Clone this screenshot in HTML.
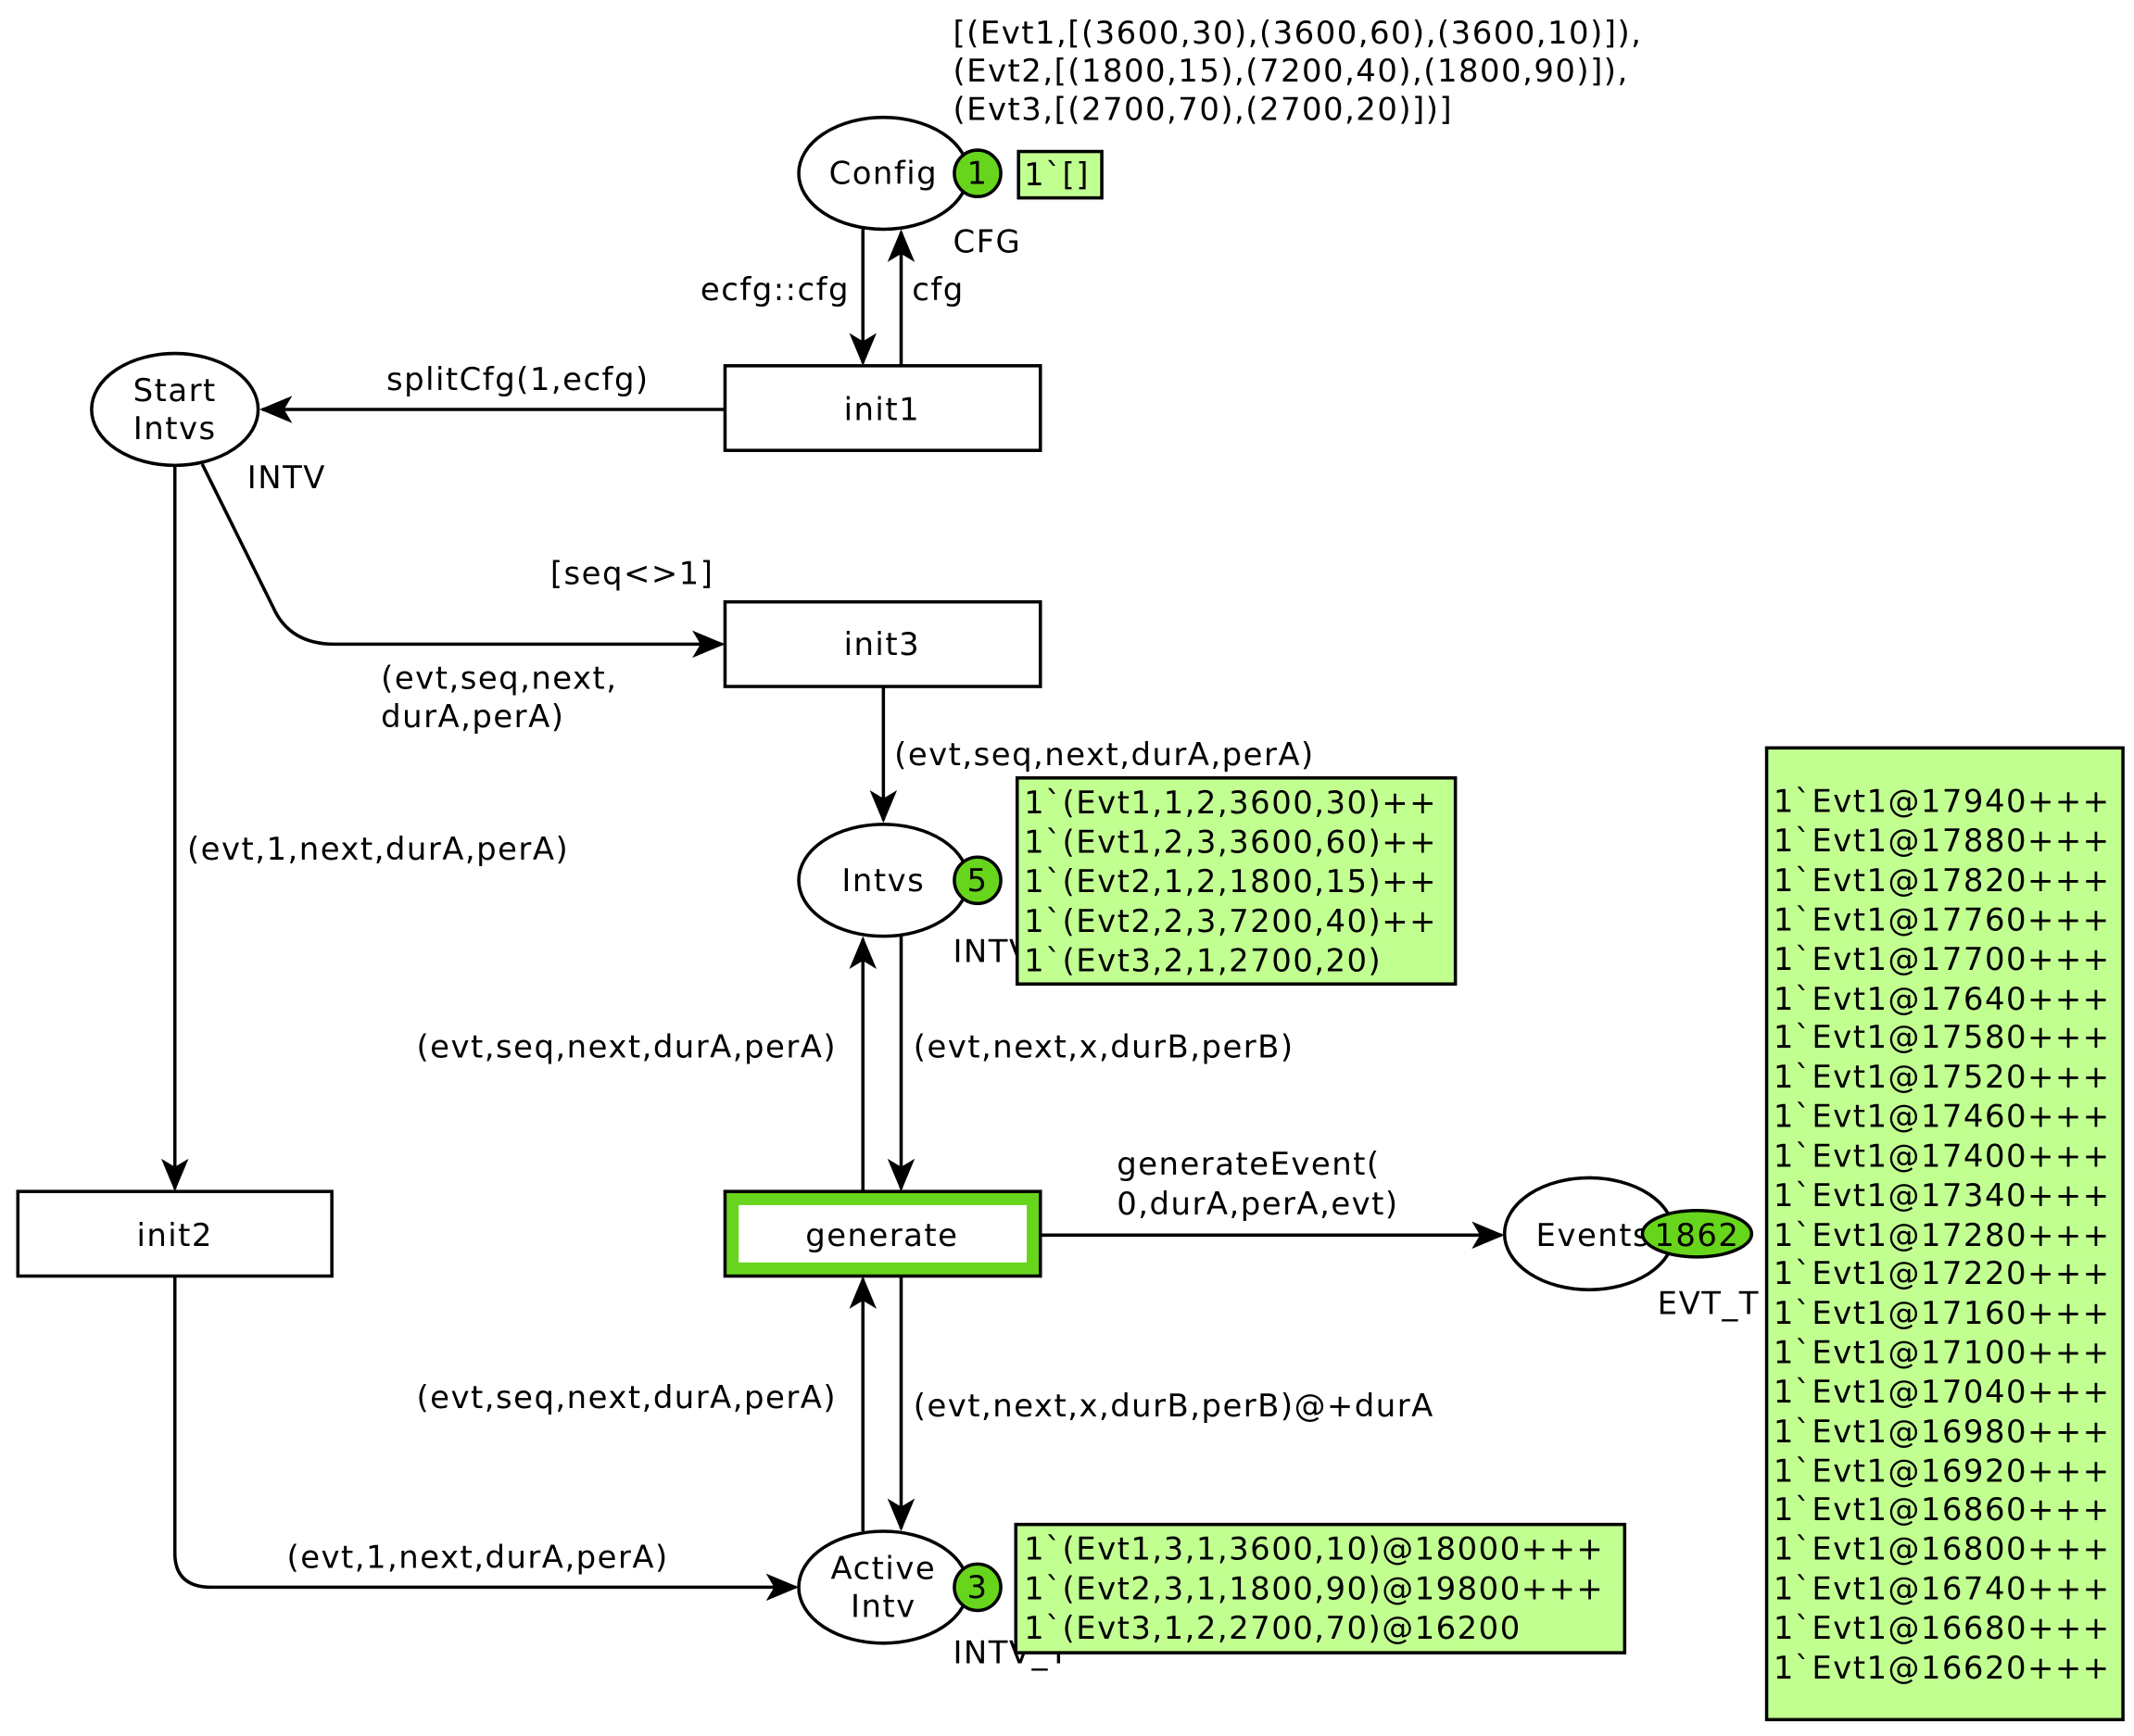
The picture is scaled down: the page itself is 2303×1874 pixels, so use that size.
<!DOCTYPE html>
<html><head><meta charset="utf-8"><style>
html,body{margin:0;padding:0;background:#fff}
svg{display:block}
text{font-family:"DejaVu Sans","Liberation Sans",sans-serif;font-size:23px;letter-spacing:1px;fill:#000;dominant-baseline:central}
</style></head><body>
<svg width="2303" height="1874" viewBox="0 0 1563 1272" xmlns="http://www.w3.org/2000/svg">
<defs>
<marker id="b" markerWidth="24" markerHeight="24" refX="22" refY="10" orient="auto" markerUnits="userSpaceOnUse" viewBox="0 0 24 20"><path d="M0,0 L24,10 L0,20 L6,10 Z" fill="#000"/></marker></defs>
<g fill="none" stroke="#000" stroke-width="2.4">
<line x1="632" y1="168" x2="632" y2="266" marker-end="url(#b)"/>
<line x1="660" y1="268" x2="660" y2="170" marker-end="url(#b)"/>
<line x1="531" y1="300" x2="192" y2="300" marker-end="url(#b)"/>
<path d="M148,340 L200,445 Q212,472 245,472 L529,472" marker-end="url(#b)"/>
<line x1="647" y1="503" x2="647" y2="601" marker-end="url(#b)"/>
<line x1="128" y1="341" x2="128" y2="871" marker-end="url(#b)"/>
<line x1="632" y1="873" x2="632" y2="688" marker-end="url(#b)"/>
<line x1="660" y1="686" x2="660" y2="871" marker-end="url(#b)"/>
<line x1="762" y1="905" x2="1100" y2="905" marker-end="url(#b)"/>
<line x1="632" y1="1122" x2="632" y2="937" marker-end="url(#b)"/>
<line x1="660" y1="935" x2="660" y2="1120" marker-end="url(#b)"/>
<path d="M128,935 L128,1138 Q128,1163 155,1163 L583,1163" marker-end="url(#b)"/>
<ellipse cx="647" cy="127" rx="62" ry="41" fill="#fff"/>
<ellipse cx="128" cy="300" rx="61" ry="41" fill="#fff"/>
<ellipse cx="647" cy="645" rx="62" ry="41" fill="#fff"/>
<ellipse cx="1164" cy="904" rx="62" ry="41" fill="#fff"/>
<ellipse cx="647" cy="1163" rx="62" ry="41" fill="#fff"/>
<rect x="531" y="268" width="231" height="62" fill="#fff"/>
<rect x="531" y="441" width="231" height="62" fill="#fff"/>
<rect x="13" y="873" width="230" height="62" fill="#fff"/>
<rect x="531" y="873" width="231" height="62" fill="#67d51b"/>
<rect x="541" y="883" width="211" height="42" fill="#fff" stroke="none"/>
<circle cx="716" cy="127" r="17" fill="#67d51b"/>
<circle cx="716" cy="645" r="17" fill="#67d51b"/>
<circle cx="716" cy="1163" r="17" fill="#67d51b"/>
<rect x="746" y="111" width="61" height="34" fill="#c2ff91"/>
</g>
<text x="698" y="24">[(Evt1,[(3600,30),(3600,60),(3600,10)]),</text>
<text x="698" y="52">(Evt2,[(1800,15),(7200,40),(1800,90)]),</text>
<text x="698" y="80">(Evt3,[(2700,70),(2700,20)])]</text>
<text x="647" y="127" text-anchor="middle">Config</text>
<text x="716" y="127" text-anchor="middle">1</text>
<text x="750" y="128">1`[]</text>
<text x="698" y="177">CFG</text>
<text x="513" y="212">ecfg::cfg</text>
<text x="668" y="212">cfg</text>
<text x="646" y="300" text-anchor="middle">init1</text>
<text x="128" y="286" text-anchor="middle">Start</text>
<text x="128" y="314" text-anchor="middle">Intvs</text>
<text x="181" y="350">INTV</text>
<text x="283" y="278">splitCfg(1,ecfg)</text>
<text x="403" y="420">[seq&lt;&gt;1]</text>
<text x="279" y="497">(evt,seq,next,</text>
<text x="279" y="525">durA,perA)</text>
<text x="646" y="472" text-anchor="middle">init3</text>
<text x="655" y="553">(evt,seq,next,durA,perA)</text>
<text x="137" y="622">(evt,1,next,durA,perA)</text>
<text x="647" y="645" text-anchor="middle">Intvs</text>
<text x="716" y="645" text-anchor="middle">5</text>
<text x="698" y="697">INTV</text>
<rect x="745" y="570" width="321" height="151" fill="#c2ff91" stroke="#000" stroke-width="2.4"/>
<text x="750" y="588">1`(Evt1,1,2,3600,30)++</text>
<text x="750" y="617">1`(Evt1,2,3,3600,60)++</text>
<text x="750" y="646">1`(Evt2,1,2,1800,15)++</text>
<text x="750" y="675">1`(Evt2,2,3,7200,40)++</text>
<text x="750" y="704">1`(Evt3,2,1,2700,20)</text>
<text x="305" y="767">(evt,seq,next,durA,perA)</text>
<text x="669" y="767">(evt,next,x,durB,perB)</text>
<text x="128" y="905" text-anchor="middle">init2</text>
<text x="646" y="905" text-anchor="middle">generate</text>
<text x="818" y="853">generateEvent(</text>
<text x="818" y="882">0,durA,perA,evt)</text>
<text x="1125" y="905">Events</text>
<ellipse cx="1243" cy="904" rx="40" ry="17" fill="#67d51b" stroke="#000" stroke-width="2.4"/>
<text x="1243" y="905" text-anchor="middle">1862</text>
<text x="1214" y="955">EVT_T</text>
<text x="305" y="1024">(evt,seq,next,durA,perA)</text>
<text x="669" y="1030">(evt,next,x,durB,perB)@+durA</text>
<text x="210" y="1141">(evt,1,next,durA,perA)</text>
<text x="647" y="1149" text-anchor="middle">Active</text>
<text x="647" y="1177" text-anchor="middle">Intv</text>
<text x="716" y="1163" text-anchor="middle">3</text>
<text x="698" y="1211">INTV_T</text>
<rect x="744" y="1117" width="446" height="94" fill="#c2ff91" stroke="#000" stroke-width="2.4"/>
<text x="750" y="1135">1`(Evt1,3,1,3600,10)@18000+++</text>
<text x="750" y="1164">1`(Evt2,3,1,1800,90)@19800+++</text>
<text x="750" y="1193">1`(Evt3,1,2,2700,70)@16200</text>
<rect x="1294" y="548" width="261" height="712" fill="#c2ff91" stroke="#000" stroke-width="2.4"/>
<g>
<text x="1299" y="587">1`Evt1@17940+++</text>
<text x="1299" y="616">1`Evt1@17880+++</text>
<text x="1299" y="645">1`Evt1@17820+++</text>
<text x="1299" y="674">1`Evt1@17760+++</text>
<text x="1299" y="703">1`Evt1@17700+++</text>
<text x="1299" y="732">1`Evt1@17640+++</text>
<text x="1299" y="760">1`Evt1@17580+++</text>
<text x="1299" y="789">1`Evt1@17520+++</text>
<text x="1299" y="818">1`Evt1@17460+++</text>
<text x="1299" y="847">1`Evt1@17400+++</text>
<text x="1299" y="876">1`Evt1@17340+++</text>
<text x="1299" y="905">1`Evt1@17280+++</text>
<text x="1299" y="933">1`Evt1@17220+++</text>
<text x="1299" y="962">1`Evt1@17160+++</text>
<text x="1299" y="991">1`Evt1@17100+++</text>
<text x="1299" y="1020">1`Evt1@17040+++</text>
<text x="1299" y="1049">1`Evt1@16980+++</text>
<text x="1299" y="1078">1`Evt1@16920+++</text>
<text x="1299" y="1106">1`Evt1@16860+++</text>
<text x="1299" y="1135">1`Evt1@16800+++</text>
<text x="1299" y="1164">1`Evt1@16740+++</text>
<text x="1299" y="1193">1`Evt1@16680+++</text>
<text x="1299" y="1222">1`Evt1@16620+++</text>
</g>
</svg>
</body></html>
